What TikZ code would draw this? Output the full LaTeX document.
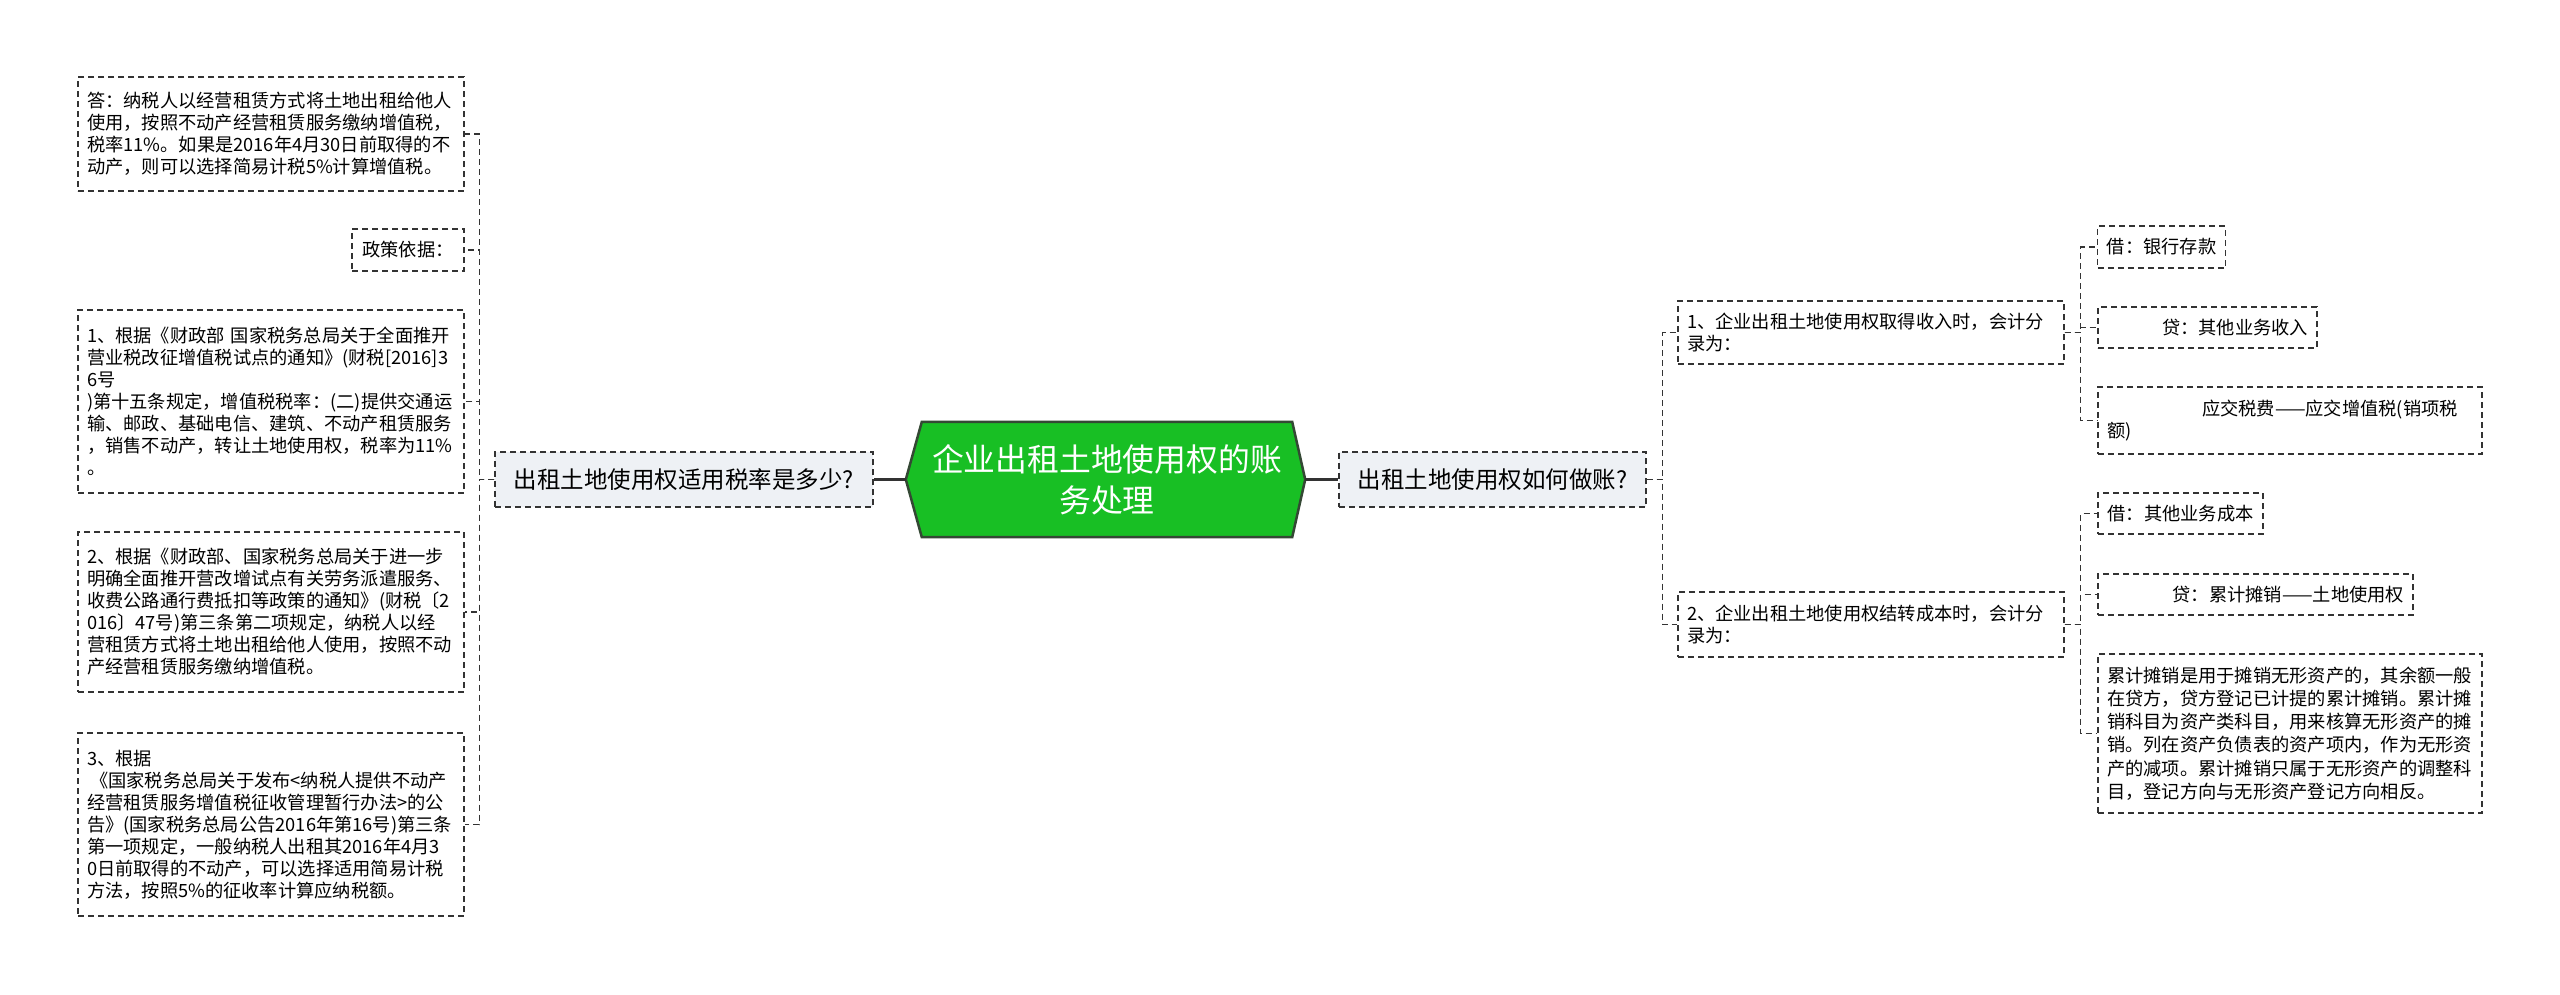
\documentclass[tikz,border=0pt]{standalone}
\usepackage{fontspec}
\setmainfont{Noto Sans CJK SC}
\usetikzlibrary{calc,backgrounds}
\definecolor{rootgreen}{RGB}{24,191,36}
\definecolor{rootborder}{RGB}{52,72,52}
\definecolor{lonefill}{RGB}{238,241,245}
\definecolor{linegray}{RGB}{51,51,51}
\tikzset{
  dsh/.style={draw=linegray, line width=1.4pt, dash pattern=on 6pt off 4pt},
  box/.style={dsh, inner xsep=9pt, inner ysep=0pt, align=left,
    font=\fontsize{18.25pt}{22pt}\selectfont},
  rbox/.style={box, font=\fontsize{18.25pt}{23.3pt}\selectfont},
  lone/.style={dsh, fill=lonefill, inner xsep=0pt, inner ysep=0pt, align=center,
    minimum height=55pt, font=\fontsize{23.5pt}{28pt}\selectfont},
  conn/.style={dsh},
  rootconn/.style={draw=linegray, line width=3pt},
}
\begin{document}
\begin{tikzpicture}[x=1pt,y=-1pt]
\useasboundingbox (0,0) rectangle (2560,994);

% root
\node[minimum width=370pt, minimum height=115pt, inner sep=0pt, align=center,
  text=white, font=\fontsize{31.8pt}{41pt}\selectfont] (root) at (1107,479.5)
  {企业出租土地使用权的账\\务处理};
\coordinate (rootW) at ($(root.west)+(-16,0)$);
\coordinate (rootE) at ($(root.east)+(13,0)$);
\begin{pgfonlayer}{background}
\fill[white] (0,0) rectangle (2560,994);
\draw[fill=rootgreen, draw=rootborder, line width=2.5pt, line join=miter]
  (rootW) -- (root.north west) -- (root.north east) -- (rootE)
  -- (root.south east) -- (root.south west) -- cycle;
\end{pgfonlayer}

% level 1
\node[lone, minimum width=378pt] (L) at (684,479.5) {出租土地使用权适用税率是多少?};
\node[lone, minimum width=307pt] (R) at (1492.5,479.5) {出租土地使用权如何做账?};
\draw[rootconn] (rootW) -- (L.east);
\draw[rootconn] (rootE) -- (R.west);

% left children
\node[box, text width=368pt, minimum height=114pt] (A) at (271,134)
{答：纳税人以经营租赁方式将土地出租给他人\\
使用，按照不动产经营租赁服务缴纳增值税，\\
税率11\%。如果是2016年4月30日前取得的不\\
动产，则可以选择简易计税5\%计算增值税。};
\node[box, minimum width=112pt, minimum height=42pt] (P) at (408,250) {政策依据：};
\node[box, text width=368pt, minimum height=183pt] (B1) at (271,401.5)
{1、根据《财政部 国家税务总局关于全面推开\\
营业税改征增值税试点的通知》(财税[2016]3\\
6号\\
)第十五条规定，增值税税率：(二)提供交通运\\
输、邮政、基础电信、建筑、不动产租赁服务\\
，销售不动产，转让土地使用权，税率为11\%\\
。};
\node[box, text width=368pt, minimum height=160pt] (B2) at (271,612)
{2、根据《财政部、国家税务总局关于进一步\\
明确全面推开营改增试点有关劳务派遣服务、\\
收费公路通行费抵扣等政策的通知》(财税〔2\\
016〕47号)第三条第二项规定，纳税人以经\\
营租赁方式将土地出租给他人使用，按照不动\\
产经营租赁服务缴纳增值税。};
\node[box, text width=368pt, minimum height=183pt] (B3) at (271,824.5)
{3、根据\\
\,《国家税务总局关于发布<纳税人提供不动产\\
经营租赁服务增值税征收管理暂行办法>的公\\
告》(国家税务总局公告2016年第16号)第三条\\
第一项规定，一般纳税人出租其2016年4月3\\
0日前取得的不动产，可以选择适用简易计税\\
方法，按照5\%的征收率计算应纳税额。};

\foreach \c in {A,P,B1,B2,B3}
  \draw[conn] (L.west) -- ++(-15,0) |- (\c.east);

% right level 2
\node[box, text width=368pt, minimum height=63pt] (R1) at (1871,332.5)
{1、企业出租土地使用权取得收入时，会计分\\录为：};
\node[box, text width=368pt, minimum height=65pt] (R2) at (1871,624.5)
{2、企业出租土地使用权结转成本时，会计分\\录为：};
\draw[conn] (R.east) -- ++(16,0) |- (R1.west);
\draw[conn] (R.east) -- ++(16,0) |- (R2.west);

% right level 3
\node[box, minimum width=127pt, minimum height=42pt] (R1a) at (2161.5,247) {借：银行存款};
\node[box, text width=201pt, align=right, minimum height=41pt] (R1b) at (2207.5,327.5) {贷：其他业务收入};
\node[box, text width=366pt, minimum height=67pt] (R1c) at (2290,420.5)
{\hspace*{95pt}应交税费——应交增值税(销项税\\额)};
\node[box, minimum width=165pt, minimum height=41pt] (R2a) at (2180.5,513.5) {借：其他业务成本};
\node[box, text width=297pt, align=right, minimum height=41pt] (R2b) at (2255.5,594.5) {贷：累计摊销——土地使用权};
\node[rbox, text width=366pt, minimum height=159pt] (R2c) at (2290,733.5)
{累计摊销是用于摊销无形资产的，其余额一般\\
在贷方，贷方登记已计提的累计摊销。累计摊\\
销科目为资产类科目，用来核算无形资产的摊\\
销。列在资产负债表的资产项内，作为无形资\\
产的减项。累计摊销只属于无形资产的调整科\\
目，登记方向与无形资产登记方向相反。};

\foreach \c in {R1a,R1b,R1c}
  \draw[conn] (R1.east) -- ++(16,0) |- (\c.west);
\foreach \c in {R2a,R2b,R2c}
  \draw[conn] (R2.east) -- ++(16,0) |- (\c.west);
\end{tikzpicture}
\end{document}
